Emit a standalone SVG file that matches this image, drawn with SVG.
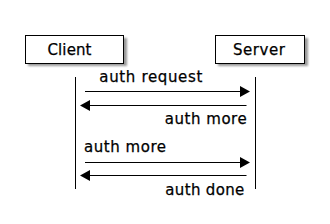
<svg xmlns="http://www.w3.org/2000/svg" width="330" height="224" viewBox="0 0 330 224">
<style>
text{font-family:"DejaVu Sans","Liberation Sans",sans-serif;font-size:15px;fill:#000;stroke:#000;stroke-width:0.25}
.box{fill:#fff;stroke:#000;stroke-width:1}
.shadow{fill:#000;opacity:0.4}
.life{stroke:#000;stroke-width:1;fill:none}
.msg{stroke:#000;stroke-width:1;fill:none}
.head{fill:#000;stroke:none}
</style>
<defs>
<filter id="blur" x="-10%" y="-30%" width="120%" height="160%"><feGaussianBlur stdDeviation="1.2"/></filter>
</defs>
<rect width="330" height="224" fill="#fff"/>
<g id="lifelines">
<line class="life" x1="75.5" y1="77" x2="75.5" y2="189"/>
<line class="life" x1="255.5" y1="77" x2="255.5" y2="189"/>
</g>
<g id="client">
<rect class="shadow" x="28" y="38" width="99" height="28" filter="url(#blur)"/>
<rect class="box" x="25.5" y="35.5" width="98" height="28"/>
<text x="47.5" y="55" textLength="44" lengthAdjust="spacing">Client</text>
</g>
<g id="server">
<rect class="shadow" x="218" y="38" width="90" height="28" filter="url(#blur)"/>
<rect class="box" x="215.5" y="35.5" width="89" height="28"/>
<text x="233" y="55" textLength="52" lengthAdjust="spacing">Server</text>
</g>
<g id="connectors">
<line class="msg" x1="85" y1="91.5" x2="241" y2="91.5"/>
<polygon class="head" points="240,86 250,91.5 240,97"/>
<text x="99.3" y="82" textLength="103" lengthAdjust="spacing">auth request</text>
<line class="msg" x1="89" y1="105.5" x2="246.5" y2="105.5"/>
<polygon class="head" points="90,100 80,105.5 90,111"/>
<text x="246.7" y="124" text-anchor="end" textLength="82" lengthAdjust="spacing">auth more</text>
<line class="msg" x1="85" y1="162.5" x2="241" y2="162.5"/>
<polygon class="head" points="240,157 250,162.5 240,168"/>
<text x="84" y="152" textLength="82" lengthAdjust="spacing">auth more</text>
<line class="msg" x1="89" y1="175.5" x2="246.5" y2="175.5"/>
<polygon class="head" points="90,170 80,175.5 90,181"/>
<text x="244.3" y="194.5" text-anchor="end" textLength="79" lengthAdjust="spacing">auth done</text>
</g>
</svg>
